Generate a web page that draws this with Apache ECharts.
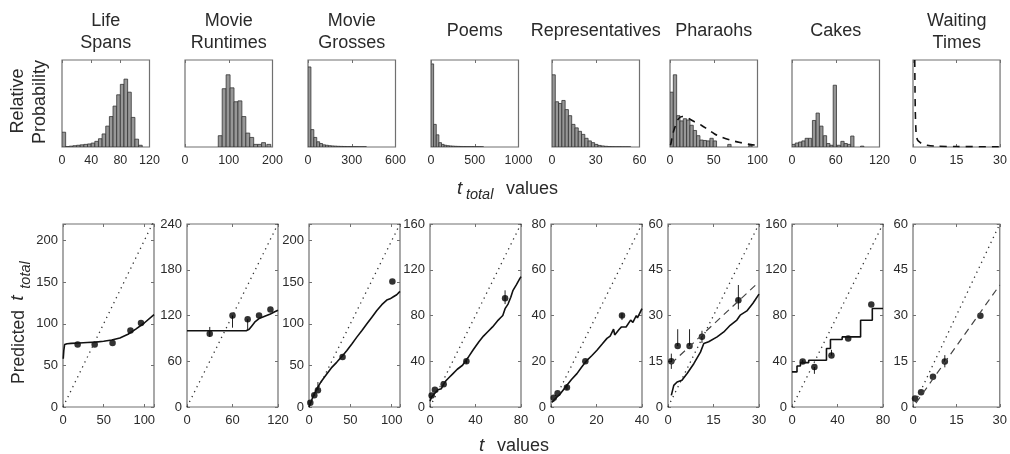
<!DOCTYPE html>
<html><head><meta charset="utf-8">
<script src="https://cdn.jsdelivr.net/npm/echarts@6/dist/echarts.min.js"></script>
<style>html,body{margin:0;padding:0;background:#fff}#c{width:1010px;height:454px}</style>
</head><body><div id="c"></div>
<script>
// ---------------- DATA ----------------
const panelTitles = [["Life","Spans"],["Movie","Runtimes"],["Movie","Grosses"],["Poems"],["Representatives"],["Pharaohs"],["Cakes"],["Waiting","Times"]];

// top row: histogram x ranges / tick labels
const topXMax = [120, 200, 600, 1000, 60, 100, 120, 30];
const topXTicks = [[0,40,80,120],[0,100,200],[0,300,600],[0,500,1000],[0,30,60],[0,50,100],[0,60,120],[0,15,30]];

// histograms: bin starts, bin width, relative heights
const lifeBins = [0,5,10,15,20,25,30,35,40,45,50,55,60,65,70,75,80,85,90,95,100,105];
const lifeHist = [0.17,0.005,0.01,0.015,0.02,0.025,0.03,0.035,0.045,0.065,0.095,0.15,0.24,0.35,0.47,0.60,0.72,0.78,0.63,0.34,0.09,0.02];
const lifeWidth = 5;
const runBins = [76,85,94,103,112,121,130,139,148,157,166,175,187];
const runHist = [0.13,0.67,0.83,0.68,0.52,0.53,0.35,0.16,0.11,0.03,0.03,0.05,0.03];
const runWidth = 9;
const grossBins = [0,20,40,60,80,100,120,140,160,180,200,220,240,260,280,300,320,340,360,380];
const grossHist = [0.92,0.20,0.11,0.06,0.04,0.025,0.02,0.015,0.012,0.01,0.008,0.007,0.006,0.005,0.005,0.004,0.004,0.003,0.003,0.003];
const grossWidth = 20;
const poemBins = [0,30,60,90,120,150,180,210,240,270,300,330,360,390,420,450,480,510,540,570];
const poemHist = [0.955,0.26,0.14,0.05,0.03,0.02,0.015,0.012,0.01,0.008,0.007,0.006,0.005,0.005,0.004,0.004,0.003,0.003,0.003,0.002];
const poemWidth = 30;
const repBins = [0,2.25,4.5,6.75,9,11.25,13.5,15.75,18,20.25,22.5,24.75,27,29.25,31.5,33.75,36,38.25,40.5,42.75,45,47.25,49.5,51.75];
const repHist = [0.83,0.52,0.50,0.535,0.43,0.36,0.26,0.22,0.18,0.145,0.10,0.07,0.05,0.03,0.018,0.012,0.008,0.005,0.004,0.003,0.003,0.002,0.002,0.002];
const repWidth = 2.25;
const pharBins = [0,3.8,7.6,11.4,15.2,19,22.8,26.6,30.4,34.2,38,41.8,45.6,49.4,53.2,66,90];
const pharHist = [0.63,0.83,0.36,0.30,0.325,0.31,0.25,0.19,0.13,0.08,0.075,0.07,0.10,0.07,0.0,0.03,0.02];
const pharWidth = 3.8;
const cakeBins = [0,4.5,9,13.5,18,22.5,28,33,38,43,47.5,52,56.5,62,67,71.5,76,80.5,94];
const cakeHist = [0.03,0.046,0.057,0.07,0.10,0.10,0.305,0.39,0.24,0.13,0.04,0.02,0.71,0.02,0.065,0.04,0.03,0.126,0.01];
const cakeWidth = 4.5;
const pharCurve = [[0.5,0.02],[1.1,0.04],[3,0.14],[5.7,0.23],[9.4,0.32],[14,0.35],[20.8,0.33],[28,0.29],[35.8,0.25],[43.4,0.2],[51,0.15],[58.5,0.115],[70,0.076],[81,0.05],[92.5,0.027],[100,0.02]];
const waitCurve = [[0.6,1.0],[0.7,0.65],[0.8,0.4],[1.0,0.2],[1.2,0.12],[1.6,0.08],[2,0.065],[3.1,0.038],[4.9,0.02],[8,0.01],[15,0.005],[30,0.003]];

// bottom row: axes
const botXMax = [112, 120, 110, 80, 40, 30, 80, 30];
const botYMax = [220, 240, 220, 160, 80, 60, 160, 60];
const botXTicks = [[0,50,100],[0,60,120],[0,50,100],[0,40,80],[0,20,40],[0,15,30],[0,40,80],[0,15,30]];
const botYTicks = [[0,50,100,150,200],[0,60,120,180,240],[0,50,100,150,200],[0,40,80,120,160],[0,20,40,60,80],[0,15,30,45,60],[0,40,80,120,160],[0,15,30,45,60]];

// Gott's rule (dotted) lines
const gottLines = [[[0,0],[112,224]],[[0,0],[120,240]],[[0,0],[110,220]],[[0,0],[80,160]],[[0,0],[40,80]],[[0,0],[30,60]],[[0,0],[80,160]],[[0,0],[30,60]]];

// model predictions (solid)
const lifeModel = [[0.3,58],[1,68],[2,75],[5,76],[10,76.5],[20,77],[30,77.5],[40,78],[50,79],[60,80.5],[70,83],[80,87.5],[90,94],[100,101],[112,111]];
const runModel = [[0,100],[78,100],[82,102],[86,107],[90,112],[95,116],[100,118],[105,120],[110,122],[115,124.5],[120,127]];
const grossModel = [[0,0],[1.6,4],[5,13],[9.6,22],[15,31],[21.7,40],[27,47],[33.7,54],[40,61],[45.8,68],[52,76],[57.8,84],[64,92],[70,100],[76,108],[82,116],[88,123],[94,128.5],[98,130],[102,132.5],[106,135],[110,139]];
const poemModel = [[0,5],[1.4,9],[4.3,12],[7,15],[10,16],[12,20],[14,23],[17,26],[20,29],[24,33],[28.6,36.5],[31,40],[34,44],[38,50],[43,57],[47,62],[51,66],[55,70],[60,76],[62,78],[64,80],[66,86],[68.6,90],[71,96],[73,102],[76,107],[78.8,112],[80,114]];
const repModel = [[0.3,2],[1.9,3.6],[4.1,5.8],[7,9.5],[9,12],[11.4,14.6],[13.5,17.5],[15.8,20.4],[18,22.5],[20.2,24.8],[22.5,27.5],[24.6,30],[26,31],[27.5,34],[28,31.5],[30,34],[31,35],[33,35],[35,38],[36,37],[37.5,40],[38,39],[40,43]];
const pharModel = [[1.1,3.8],[1.9,7.1],[3,8.2],[4.6,8.8],[6.3,11],[8.5,14.2],[10.7,18],[11.8,20.8],[13.4,21.4],[16.2,23],[18.4,24.6],[20.5,26.8],[22.7,28.5],[23.8,30.1],[26,31.5],[28,34],[30,37]];
const cakeModel = [[0,30.7],[4.4,30.7],[4.4,35.9],[7.4,35.9],[7.4,38.8],[14.7,38.8],[14.7,40.9],[30.3,40.9],[30.3,51.1],[33.8,51.1],[33.8,59],[44.1,59],[44.1,61.3],[60.3,61.3],[60.3,75.9],[70.6,75.9],[70.6,86.1],[80,86.1]];
// dashed fits
const pharDash = [[1,14.2],[30,41]];
const waitDash = [[1,1.3],[30,40]];

// human median predictions (dots) and error bars [t, low, high]
const lifeDots = [[18,75],[39,75],[61,77],[83,92],[96,101]];
const runDots = [[30,96],[60,120],[80,115],[95,120],[110,128]];
const runErr = [[30,92,105],[60,104,120],[80,101,115]];
const grossDots = [[1.6,5],[6.4,14],[10.8,20],[40.6,60],[100.8,151]];
const grossErr = [[10.8,20,30],[6.4,12,17]];
const poemDots = [[1.4,10],[4.3,15],[12,20],[32,40],[66,95]];
const poemErr = [[66,90,102],[32,38,42]];
const repDots = [[1.2,4],[2.9,6],[7,8.5],[15.1,20],[31.2,40]];
const repErr = [[7,7.5,10],[31.2,38,41]];
const pharDots = [[1.1,15],[3.2,20],[7.1,20],[11.2,23],[23.2,35]];
const pharErr = [[1.1,12.5,17.5],[3.2,20,25.5],[7.1,20,25.5],[11.2,21,25],[23.2,32,40]];
const cakeDots = [[9.4,39.7],[19.7,35],[34.7,45],[49.4,60],[69.7,89.6]];
const cakeErr = [[19.7,29,35],[34.7,45,50],[9.4,38,41]];
const waitDots = [[0.7,2.8],[2.8,4.8],[6.9,9.9],[11,14.9],[23.3,29.9]];
const waitErr = [[11,13,17]];

// ---------------- LAYOUT / STYLE ----------------
const FONT = '"Liberation Sans", Arial, Helvetica, sans-serif';
const AX = '#707070';
const TXT = '#2a2a2a';
const topLeft = [62,185,308,431,552,670,792,913];
const topW = 87.5, topTop = 60, topH = 87;
const botLeft = [63,187,309,430,551,668,792,913];
const botW = 91, botTop = 224, botH = 183;

const hists = [
  [lifeBins, lifeHist, lifeWidth],[runBins, runHist, runWidth],[grossBins, grossHist, grossWidth],[poemBins, poemHist, poemWidth],
  [repBins, repHist, repWidth],[pharBins, pharHist, pharWidth],[cakeBins, cakeHist, cakeWidth],[[],[],1]
];
const models = [lifeModel, runModel, grossModel, poemModel, repModel, pharModel, cakeModel, null];
const dashes = [null,null,null,null,null,pharDash,null,waitDash];
const dots = [lifeDots, runDots, grossDots, poemDots, repDots, pharDots, cakeDots, waitDots];
const errs = [[], runErr, grossErr, poemErr, repErr, pharErr, cakeErr, waitErr];

const grid = [], xAxis = [], yAxis = [], series = [];

function labelFmt(list) { return (v) => (list.indexOf(v) >= 0 ? String(v) : ''); }

function addPanel(left, top, w, h, xmax, ymax, xt, yt, showY) {
  const gi = grid.length;
  grid.push({left, top, width: w, height: h, show: true, borderColor: AX, borderWidth: 1.2, backgroundColor: 'rgba(0,0,0,0)'});
  const tick = {show: true, inside: true, length: 3, lineStyle: {color: AX, width: 1}};
  const line = {show: false, onZero: false};
  const xi = xAxis.length;
  const xInt = xt[1] - xt[0];
  xAxis.push({gridIndex: gi, type: 'value', position: 'bottom', min: 0, max: xmax, interval: xInt,
    axisLine: line, splitLine: {show: false}, axisTick: tick,
    axisLabel: {show: true, showMinLabel: true, showMaxLabel: true, formatter: labelFmt(xt), fontSize: showY ? 13 : 12.5, color: TXT, fontFamily: FONT, margin: 7}});
  xAxis.push({gridIndex: gi, type: 'value', position: 'top', min: 0, max: xmax, interval: xInt,
    axisLine: line, splitLine: {show: false}, axisTick: tick, axisLabel: {show: false}});
  const yi = yAxis.length;
  if (showY) {
    const yInt = yt[1] - yt[0];
    yAxis.push({gridIndex: gi, type: 'value', position: 'left', min: 0, max: ymax, interval: yInt,
      axisLine: line, splitLine: {show: false}, axisTick: tick,
      axisLabel: {show: true, showMinLabel: true, showMaxLabel: true, formatter: labelFmt(yt), fontSize: 13, color: TXT, fontFamily: FONT, margin: 5}});
    yAxis.push({gridIndex: gi, type: 'value', position: 'right', min: 0, max: ymax, interval: yInt,
      axisLine: line, splitLine: {show: false}, axisTick: tick, axisLabel: {show: false}});
  } else {
    yAxis.push({gridIndex: gi, type: 'value', position: 'left', min: 0, max: ymax, show: false});
  }
  return {xi, yi};
}

function histRender(params, api) {
  const x0 = api.value(0), hgt = api.value(1), bw = api.value(2);
  if (hgt <= 0) return null;
  const p0 = api.coord([x0, 0]);
  const p1 = api.coord([x0 + bw, hgt]);
  return {type: 'rect', shape: {x: p0[0], y: p1[1], width: p1[0] - p0[0], height: p0[1] - p1[1]},
    style: {fill: '#979797', stroke: '#333', lineWidth: 0.8}};
}
function errRender(params, api) {
  const x = api.value(0);
  const a = api.coord([x, api.value(1)]);
  const b = api.coord([x, api.value(2)]);
  return {type: 'line', shape: {x1: a[0], y1: a[1], x2: b[0], y2: b[1]}, style: {stroke: '#222', lineWidth: 1}};
}

// top row
for (let i = 0; i < 8; i++) {
  const ax = addPanel(topLeft[i], topTop, topW, topH, topXMax[i], 1, topXTicks[i], null, false);
  const [bins, hs, bw] = hists[i];
  if (bins.length) {
    series.push({type: 'custom', xAxisIndex: ax.xi, yAxisIndex: ax.yi, clip: true, silent: true,
      renderItem: histRender, encode: {x: 0, y: 1}, data: bins.map((b, k) => [b, hs[k], bw])});
  }
}
series.push({type: 'line', xAxisIndex: 10, yAxisIndex: 5, data: pharCurve, showSymbol: false, smooth: 0.3,
  lineStyle: {color: '#111', width: 1.6, type: [7, 6]}, silent: true});
series.push({type: 'line', xAxisIndex: 14, yAxisIndex: 7, data: waitCurve, showSymbol: false, smooth: 0.3,
  lineStyle: {color: '#111', width: 1.6, type: [7, 6]}, silent: true});

// bottom row
for (let i = 0; i < 8; i++) {
  const ax = addPanel(botLeft[i], botTop, botW, botH, botXMax[i], botYMax[i], botXTicks[i], botYTicks[i], true);
  series.push({type: 'line', xAxisIndex: ax.xi, yAxisIndex: ax.yi, data: gottLines[i], showSymbol: false, silent: true,
    lineStyle: {color: '#333', width: 1.3, type: [1.3, 4.2]}});
  if (models[i]) series.push({type: 'line', xAxisIndex: ax.xi, yAxisIndex: ax.yi, data: models[i], showSymbol: false, silent: true,
    lineStyle: {color: '#111', width: 1.6}});
  if (dashes[i]) series.push({type: 'line', xAxisIndex: ax.xi, yAxisIndex: ax.yi, data: dashes[i], showSymbol: false, silent: true,
    lineStyle: {color: '#444', width: 1.2, type: [7, 5]}});
  if (errs[i].length) series.push({type: 'custom', xAxisIndex: ax.xi, yAxisIndex: ax.yi, renderItem: errRender, silent: true,
    encode: {x: 0, y: [1, 2]}, data: errs[i]});
  series.push({type: 'scatter', xAxisIndex: ax.xi, yAxisIndex: ax.yi, data: dots[i], symbolSize: 6.5, silent: true,
    itemStyle: {color: '#000'}});
}

// text
const graphic = [];
function txt(x, y, text, size, opts) {
  opts = opts || {};
  graphic.push({type: 'text', x, y, rotation: opts.rot || 0, silent: true,
    style: {text, fill: TXT, font: (opts.italic ? 'italic ' : '') + size + 'px ' + FONT,
      align: opts.align || 'center', verticalAlign: 'middle', textAlign: opts.align || 'center', textVerticalAlign: 'middle'}});
}
for (let i = 0; i < 8; i++) {
  const cx = topLeft[i] + topW / 2;
  const t = panelTitles[i];
  if (t.length === 2) { txt(cx, 21, t[0], 18); txt(cx, 43, t[1], 18); }
  else txt(cx, 31, t[0], 18);
}
txt(18.5, 101, 'Relative', 18, {rot: Math.PI / 2});
txt(40, 102, 'Probability', 18, {rot: Math.PI / 2});
txt(457, 189, 't', 19, {italic: true, align: 'left'});
txt(466, 195, 'total', 14.5, {italic: true, align: 'left'});
txt(506, 189, 'values', 18, {align: 'left'});
txt(479, 446, 't', 19, {italic: true, align: 'left'});
txt(497, 446, 'values', 18, {align: 'left'});
txt(19, 347, 'Predicted', 17.5, {rot: Math.PI / 2});
txt(18, 298, 't', 19, {rot: Math.PI / 2, italic: true});
txt(26, 275, 'total', 14.5, {rot: Math.PI / 2, italic: true});

const chart = echarts.init(document.getElementById('c'), null, {renderer: 'canvas'});
chart.setOption({animation: false, backgroundColor: '#fff', grid, xAxis, yAxis, series, graphic});
</script></body></html>
